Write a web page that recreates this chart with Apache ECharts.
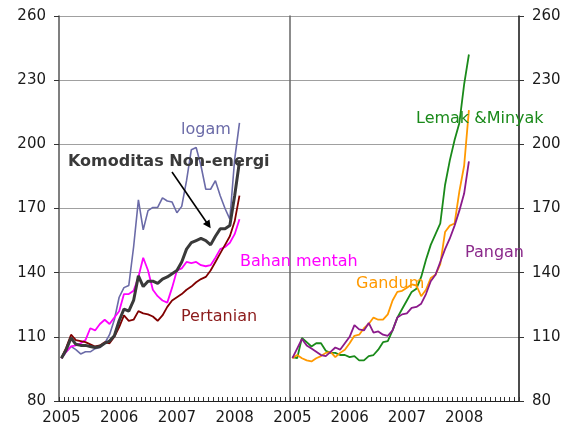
<!DOCTYPE html>
<html>
<head>
<meta charset="utf-8">
<script src="https://cdn.jsdelivr.net/npm/echarts@6/dist/echarts.min.js"></script>
<style>
  html, body { margin: 0; padding: 0; background: #fff; }
  #chart { width: 567px; height: 433px; }
</style>
</head>
<body>
<div id="chart"></div>
<script>
// Indeks harga komoditas, Jan 2005 = 100 (bulanan, Jan 2005 - Feb 2008)

var years = ['2005', '2006', '2007', '2008'];
var yTicks = [80, 110, 140, 170, 200, 230, 260];

// panel kiri
var nonEnergi = [100, 104, 109.5, 106.5, 106, 106, 105.5, 105, 105.5, 107, 108, 110.5,
    117.5, 123, 122, 127, 138.5, 133.5, 136, 136, 135, 137, 138, 139.5,
    141, 145, 151, 154, 155, 156, 155, 153, 157, 160.5, 160.5, 162, 176, 192];
var logam = [100, 103, 105.5, 104, 102, 103, 103, 104.5, 105, 107, 111, 118,
    128.5, 133, 134, 152, 174, 160, 169, 170.5, 170.5, 175, 173.5, 173,
    168, 171, 183, 197.5, 198.5, 190, 179, 179, 183, 176, 170, 165, 193, 210];
var bahanMentah = [100, 103, 105.5, 106, 107, 108.5, 114, 113, 116, 118, 116, 119,
    122, 130, 130, 131.5, 138, 147, 141, 132, 129, 127, 126, 133,
    141, 142, 145, 144.5, 145, 143.5, 143, 143.5, 147, 151, 152, 154, 158, 165];
var pertanian = [100, 105, 111, 108.5, 108, 107.5, 106.5, 105.5, 106, 107.5, 107, 110,
    114.5, 120, 117.5, 118, 122, 121, 120.5, 119.5, 117.5, 120, 124, 127,
    128.5, 130, 132, 133.5, 135.5, 137, 138, 141, 145, 149, 153, 157, 164, 176];

// panel kanan
var lemakMinyak = [100.5, 100, 109.5, 107.5, 105.5, 107, 107, 103.5, 102.5, 102.5, 101.5, 101.5,
    100.5, 101, 99, 99, 101, 101.5, 104, 107.5, 108, 113, 119, 123,
    127, 131, 132.5, 138, 146, 153, 158, 163, 181, 192.5, 202, 210, 228, 242];
var gandum = [100, 101.5, 100, 99, 98.5, 100, 101, 102.5, 103, 100.5, 102.5, 104,
    107, 110.5, 111, 114, 116, 119, 118, 118, 120.5, 127, 131, 131.5,
    133, 134.5, 134, 129, 132, 137.5, 139, 144, 159, 162, 163, 178, 190, 216];
var pangan = [100, 104.5, 109, 106, 104.5, 103, 101.5, 101, 103, 105, 104, 107,
    110, 115.5, 113.5, 113, 116.5, 112, 112.5, 111, 110.5, 113, 119, 120.5,
    121, 123.5, 124, 125.5, 130, 136, 139, 145, 151, 156, 162, 169, 177, 192];

var months = [];
years.forEach(function (y) {
    for (var m = 1; m <= 12; m++) months.push(y + '-' + m);
});

var FONT = '"DejaVu Sans", Verdana, sans-serif';
var TEXT = '#1a1a1a';

function xAxisFor(gridIndex) {
    return {
        type: 'category',
        gridIndex: gridIndex,
        data: months,
        boundaryGap: true,
        axisLine: { lineStyle: { color: '#222', width: 1 } },
        axisTick: { show: true, interval: 0, inside: true, length: 4, lineStyle: { color: '#333' } },
        axisLabel: {
            interval: 11,
            margin: 10,
            fontFamily: FONT, fontSize: 15, color: TEXT,
            formatter: function (v) { return v.split('-')[0]; }
        },
        splitLine: { show: false }
    };
}

function yAxisFor(gridIndex, pos, color, labels) {
    return {
        type: 'value',
        gridIndex: gridIndex,
        position: pos,
        min: yTicks[0],
        max: yTicks[yTicks.length - 1],
        interval: 30,
        axisLine: { show: true, lineStyle: { color: color, width: 1.5 } },
        axisTick: { show: labels, length: 5, lineStyle: { color: '#333' } },
        axisLabel: { show: labels, margin: 13, fontFamily: FONT, fontSize: 15, color: TEXT },
        splitLine: { show: labels, lineStyle: { color: '#a0a0a0', width: 1.2 } }
    };
}

function line(name, data, color, width, xi, yi) {
    return {
        name: name, type: 'line', data: data,
        xAxisIndex: xi, yAxisIndex: yi,
        symbol: 'none', smooth: false,
        lineStyle: { color: color, width: width },
        itemStyle: { color: color },
        animation: false
    };
}

function label(text, x, y, color, bold) {
    return {
        type: 'text', x: x, y: y, z: 100,
        style: {
            text: text, fill: color,
            font: (bold ? 'bold ' : '') + '16px ' + FONT,
            verticalAlign: 'middle'
        }
    };
}

var chart = echarts.init(document.getElementById('chart'));

chart.setOption({
    animation: false,
    grid: [
        { left: 59, top: 16, width: 231, height: 385 },
        { left: 290, top: 16, width: 229, height: 385 }
    ],
    xAxis: [xAxisFor(0), xAxisFor(1)],
    yAxis: [
        yAxisFor(0, 'left', '#555', true),
        yAxisFor(1, 'right', '#111', true),
        yAxisFor(1, 'left', '#666', false)
    ],
    series: [
        line('logam', logam, '#6b6ba8', 1.6, 0, 0),
        line('Bahan mentah', bahanMentah, '#ff00ff', 1.8, 0, 0),
        line('Pertanian', pertanian, '#800000', 1.8, 0, 0),
        line('Komoditas Non-energi', nonEnergi, '#3a3a3a', 3, 0, 0),
        line('Lemak & Minyak', lemakMinyak, '#1a8a1a', 1.8, 1, 1),
        line('Gandum', gandum, '#ff9900', 1.8, 1, 1),
        line('Pangan', pangan, '#8b1a8b', 1.8, 1, 1)
    ],
    graphic: [
        label('logam', 181, 130, '#6b6ba8', false),
        label('Komoditas Non-energi', 68, 162, '#3a3a3a', true),
        label('Bahan mentah', 240, 262, '#ff00ff', false),
        label('Pertanian', 181, 317, '#8b1a1a', false),
        label('Lemak &Minyak', 416, 119, '#1a8a1a', false),
        label('Gandum', 356, 284, '#ff9900', false),
        label('Pangan', 465, 253, '#8b2a8b', false),
        {
            type: 'line', z: 100,
            shape: { x1: 172, y1: 172, x2: 207, y2: 223 },
            style: { stroke: '#000', lineWidth: 1.6 }
        },
        {
            type: 'polygon', z: 100,
            shape: { points: [[210.7, 228.3], [202.9, 224], [209.5, 219.4]] },
            style: { fill: '#000' }
        }
    ]
});
</script>
</body>
</html>
